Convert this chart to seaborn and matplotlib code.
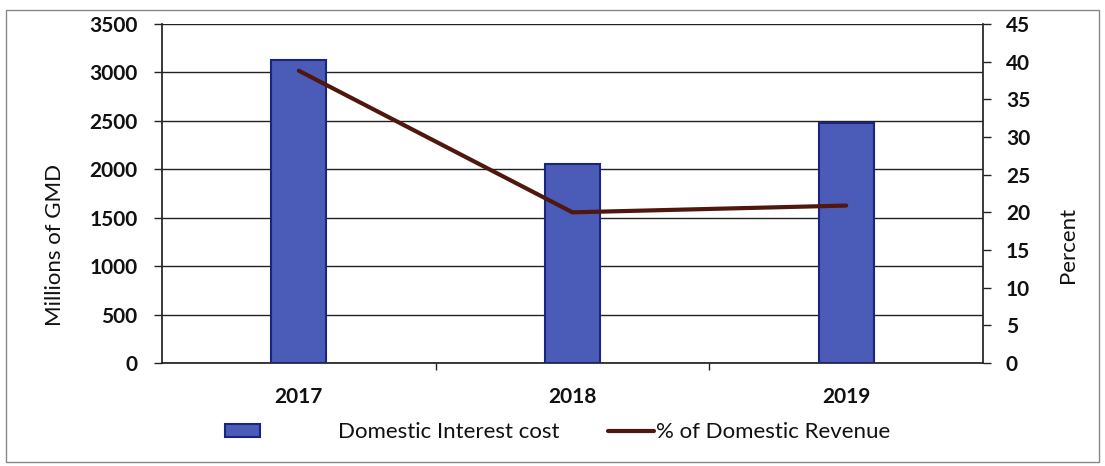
import matplotlib
matplotlib.use("Agg")
import matplotlib.pyplot as plt
from matplotlib.patches import Rectangle, Patch
from matplotlib.lines import Line2D
import seaborn as sns
import pandas as pd

years = ["2017", "2018", "2019"]
interest_cost = [3130, 2055, 2480]        # Millions of GMD
pct_revenue = [38.8, 20.0, 20.9]          # Percent of domestic revenue
left_ticks = [0, 500, 1000, 1500, 2000, 2500, 3000, 3500]
right_ticks = [0, 5, 10, 15, 20, 25, 30, 35, 40, 45]

sns.set_theme(style="white")
plt.rcParams["font.family"] = ["Lato", "DejaVu Sans"]
for key in ["text.color", "axes.labelcolor", "xtick.labelcolor", "ytick.labelcolor"]:
    plt.rcParams[key] = "#111111"

df = pd.DataFrame({"year": years, "cost": interest_cost, "pct": pct_revenue})

fig = plt.figure(figsize=(11.05, 4.66), dpi=100)
ax = fig.add_axes([0.1466, 0.221, 0.743, 0.7275])

bar_color = "#4a5cb8"
edge_color = "#1b2580"
line_color = "#4f170d"
axis_color = "#222222"
tick_fs = 15
label_fs = 16

sns.barplot(data=df, x="year", y="cost", ax=ax, width=0.2,
            color=bar_color, edgecolor=edge_color, linewidth=1.5,
            saturation=1, zorder=3)

ax.set_xlim(-0.5, 2.5)
ax.set_ylim(0, 3500)
ax.set_yticks(left_ticks)
ax.yaxis.grid(True, color=axis_color, linewidth=1.0, zorder=0)
ax.set_axisbelow(True)
ax.tick_params(axis="y", which="major", length=5.5, width=1, color=axis_color,
               labelsize=tick_fs, pad=12, direction="out", left=True)
ax.tick_params(axis="x", which="major", length=0, labelsize=tick_fs, pad=17)
ax.set_xticks([0.5, 1.5], minor=True)
ax.tick_params(axis="x", which="minor", length=5, width=1, color=axis_color,
               direction="out", bottom=True)
for lbl in ax.get_yticklabels() + ax.get_xticklabels():
    lbl.set_fontweight("bold")
ax.set_xlabel("")
ax.set_ylabel("Millions of GMD", fontsize=label_fs)
ax.yaxis.set_label_coords(-0.1303, 0.348)
ax.yaxis.label.set_va("center")

for side in ["top", "right"]:
    ax.spines[side].set_visible(False)
ax.spines["left"].set_color(axis_color)
ax.spines["bottom"].set_color(axis_color)

ax2 = ax.twinx()
sns.lineplot(x=range(len(years)), y=pct_revenue, ax=ax2, color=line_color,
             linewidth=3, zorder=4)
ax2.set_ylim(0, 45)
ax2.set_yticks(right_ticks)
ax2.tick_params(axis="y", length=5.5, width=1, color=axis_color, labelsize=tick_fs,
                pad=11, direction="out", right=True)
for lbl in ax2.get_yticklabels():
    lbl.set_fontweight("bold")
ax2.set_ylabel("Percent", fontsize=label_fs)
ax2.yaxis.set_label_coords(1.1035, 0.348)
ax2.yaxis.label.set_va("center")
for side in ["top", "left", "bottom"]:
    ax2.spines[side].set_visible(False)
ax2.spines["right"].set_color(axis_color)
ax2.grid(False)

# legend under the plot: bar entry and line entry
leg1 = fig.legend([Patch(facecolor=bar_color, edgecolor=edge_color, linewidth=1.5)],
                  ["Domestic Interest cost"], loc="center left",
                  bbox_to_anchor=(0.2036, 0.072), frameon=False, fontsize=label_fs,
                  handlelength=1.58, handleheight=0.5, handletextpad=3.5,
                  borderaxespad=0, borderpad=0)
leg2 = fig.legend([Line2D([0], [0], color=line_color, linewidth=3)],
                  ["% of Domestic Revenue"], loc="center left",
                  bbox_to_anchor=(0.550, 0.072), frameon=False, fontsize=label_fs,
                  handlelength=2.1, handletextpad=0.05,
                  borderaxespad=0, borderpad=0)

# frame around the whole chart
fig.add_artist(Rectangle((0.005, 0.008), 0.99, 0.97, transform=fig.transFigure,
                         fill=False, edgecolor="#888888", linewidth=1.0))

fig.savefig("out.png", dpi=100, facecolor="white")
